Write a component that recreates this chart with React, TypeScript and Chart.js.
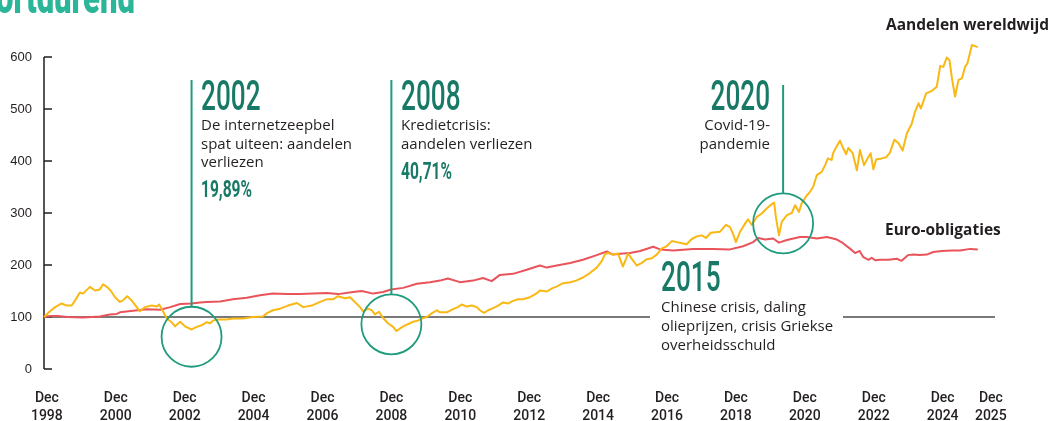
import { useEffect, useRef } from "react";
import { Chart, registerables } from "chart.js";

Chart.register(...registerables);

// ---- data ----
const seriesNames = ["Aandelen wereldwijd", "Euro-obligaties"];

const stockYears = [
  1998.92, 1999.09, 1999.24, 1999.43, 1999.58, 1999.72, 1999.82, 1999.96, 2000.05, 2000.25,
  2000.40, 2000.54, 2000.63, 2000.74, 2000.85, 2000.98, 2001.12, 2001.21, 2001.33, 2001.46,
  2001.61, 2001.70, 2001.85, 2002.04, 2002.19, 2002.26, 2002.37, 2002.48, 2002.62, 2002.72,
  2002.87, 2003.01, 2003.20, 2003.35, 2003.49, 2003.64, 2003.74, 2003.82, 2003.97, 2004.22,
  2004.40, 2004.69, 2004.98, 2005.27, 2005.38, 2005.56, 2005.77, 2006.00, 2006.26, 2006.44,
  2006.69, 2006.93, 2007.12, 2007.31, 2007.45, 2007.65, 2007.80, 2007.94, 2008.09, 2008.18,
  2008.32, 2008.43, 2008.52, 2008.64, 2008.76, 2008.90, 2009.05, 2009.15, 2009.25, 2009.40,
  2009.54, 2009.63, 2009.77, 2009.88, 2010.03, 2010.17, 2010.32, 2010.41, 2010.61, 2010.79,
  2010.93, 2011.04, 2011.19, 2011.33, 2011.48, 2011.57, 2011.69, 2011.81, 2011.95, 2012.10,
  2012.24, 2012.39, 2012.53, 2012.68, 2012.82, 2013.02, 2013.23, 2013.31, 2013.52, 2013.66,
  2013.81, 2013.98, 2014.19, 2014.36, 2014.56, 2014.77, 2014.96, 2015.11, 2015.20, 2015.29,
  2015.43, 2015.58, 2015.72, 2015.87, 2016.01, 2016.12, 2016.27, 2016.41, 2016.56, 2016.70,
  2016.85, 2016.99, 2017.14, 2017.28, 2017.43, 2017.57, 2017.72, 2017.86, 2018.01, 2018.13,
  2018.27, 2018.40, 2018.54, 2018.71, 2018.83, 2018.91, 2019.00, 2019.12, 2019.27, 2019.35,
  2019.46, 2019.60, 2019.75, 2019.90, 2020.04, 2020.11, 2020.16, 2020.25, 2020.33, 2020.48,
  2020.62, 2020.72, 2020.83, 2020.91, 2021.06, 2021.12, 2021.24, 2021.35, 2021.49, 2021.59,
  2021.67, 2021.78, 2021.82, 2021.94, 2022.02, 2022.11, 2022.20, 2022.26, 2022.39, 2022.51,
  2022.60, 2022.72, 2022.82, 2022.91, 2022.99, 2023.07, 2023.23, 2023.36, 2023.47, 2023.60,
  2023.72, 2023.84, 2023.96, 2024.10, 2024.20, 2024.30, 2024.37, 2024.52, 2024.69, 2024.83,
  2024.93, 2025.02, 2025.12, 2025.20, 2025.27, 2025.36, 2025.46, 2025.56, 2025.65, 2025.72,
  2025.85, 2025.94, 2026.02,
];
const stockValues = [
  100, 111, 119, 126, 122, 122, 132, 147, 145, 158,
  151, 153, 163, 158, 151, 138, 129, 132, 140, 132,
  119, 111, 119, 122, 120, 124, 111, 97, 90, 82,
  91, 82, 76, 81, 84, 90, 88, 93, 95, 95,
  97, 97, 100, 101, 107, 113, 116, 122, 127, 119,
  122, 129, 134, 134, 140, 136, 138, 129, 119, 111,
  116, 113, 105, 110, 98, 88, 81, 73, 78, 84,
  88, 91, 93, 97, 100, 107, 113, 109, 109, 115,
  119, 124, 120, 122, 119, 113, 108, 113, 117, 122,
  128, 126, 131, 134, 134, 138, 146, 151, 149, 155,
  159, 165, 167, 170, 176, 185, 195, 208, 221, 223,
  220, 222, 197, 222, 209, 199, 204, 211, 213, 220,
  232, 236, 246, 244, 242, 240, 250, 255, 257, 252,
  262, 263, 264, 277, 273, 261, 244, 264, 280, 288,
  277, 292, 299, 309, 317, 320, 292, 257, 283, 296,
  300, 315, 302, 319, 334, 338, 350, 373, 379, 392,
  405, 402, 415, 430, 439, 425, 413, 425, 415, 382,
  421, 392, 405, 415, 384, 403, 405, 407, 416, 441,
  434, 420, 453, 471, 495, 511, 501, 530, 535, 543,
  583, 581, 599, 594, 559, 524, 556, 559, 581, 588,
  623, 621, 619,
];

const bondYears = [
  1998.92, 1999.09, 1999.32, 1999.59, 2000.05, 2000.54, 2000.83, 2001.03, 2001.12, 2001.50,
  2001.91, 2002.29, 2002.58, 2002.87, 2003.20, 2003.45, 2003.64, 2004.03, 2004.40, 2004.80,
  2005.19, 2005.56, 2005.96, 2006.35, 2006.73, 2007.12, 2007.45, 2007.89, 2008.14, 2008.47,
  2008.76, 2008.99, 2009.34, 2009.74, 2010.12, 2010.41, 2010.64, 2010.99, 2011.37, 2011.66,
  2011.91, 2012.15, 2012.53, 2012.93, 2013.31, 2013.51, 2013.80, 2014.19, 2014.56, 2014.96,
  2015.25, 2015.43, 2015.72, 2015.93, 2016.22, 2016.60, 2016.80, 2017.18, 2017.76, 2018.34,
  2018.83, 2019.21, 2019.50, 2019.64, 2019.85, 2020.08, 2020.25, 2020.48, 2020.86, 2021.06,
  2021.35, 2021.64, 2021.93, 2022.11, 2022.32, 2022.46, 2022.59, 2022.70, 2022.85, 2022.94,
  2023.04, 2023.18, 2023.43, 2023.67, 2023.81, 2024.00, 2024.15, 2024.34, 2024.54, 2024.73,
  2024.98, 2025.27, 2025.51, 2025.80, 2026.02,
];
const bondValues = [
  100, 102, 102, 100, 99, 101, 105, 106, 109, 112,
  115, 114, 119, 125, 126, 128, 129, 130, 134, 137,
  142, 145, 144, 144, 145, 146, 144, 148, 150, 145,
  148, 153, 156, 164, 167, 170, 174, 167, 170, 175,
  169, 181, 183, 191, 199, 195, 199, 204, 210, 219,
  226, 220, 222, 223, 227, 235, 230, 228, 231, 231,
  230, 236, 244, 252, 249, 251, 243, 248, 254, 254,
  251, 254, 249, 242, 231, 223, 227, 215, 210, 214,
  209, 210, 210, 212, 208, 219, 220, 219, 220, 225,
  227, 228, 228, 231, 230,
];

const yTicks = [0, 100, 200, 300, 400, 500, 600];
const xTickYears = [1999, 2001, 2003, 2005, 2007, 2009, 2011, 2013, 2015, 2017, 2019, 2021, 2023, 2025, 2026.4];
const xTickLabels = ["1998", "2000", "2002", "2004", "2006", "2008", "2010", "2012", "2014", "2016", "2018", "2020", "2022", "2024", "2025"];

const eventYears = ["2002", "2008", "2020", "2015"];
const eventTexts = [
  ["De internetzeepbel", "spat uiteen: aandelen", "verliezen"],
  ["Kredietcrisis:", "aandelen verliezen"],
  ["Covid-19-", "pandemie"],
  ["Chinese crisis, daling", "olieprijzen, crisis Griekse", "overheidsschuld"],
];
const eventLosses = ["19,89%", "40,71%"];
// circle centres (year, index value) for the marked crises
const circleYears = [2003.2, 2009.0, 2020.37];
const circleValues = [62, 86, 280];

// ---- styles ----
const YELLOW = "#f9b814";
const RED = "#e9545b";
const TEAL = "#1f9b7e";
const TEAL_DARK = "#187a66";
const INK = "#231f20";

function drawScaled(ctx: CanvasRenderingContext2D, text: string, x: number, y: number, font: string, sx: number, color: string, align: "left" | "right" = "left") {
  ctx.save();
  ctx.font = font;
  const w = ctx.measureText(text).width * sx;
  ctx.translate(align === "left" ? x : x - w, y);
  ctx.scale(sx, 1);
  ctx.fillStyle = color;
  ctx.textAlign = "left";
  ctx.textBaseline = "alphabetic";
  ctx.fillText(text, 0, 0);
  ctx.restore();
}

function scaleFor(ctx: CanvasRenderingContext2D, text: string, font: string, target: number) {
  ctx.save();
  ctx.font = font;
  const w = ctx.measureText(text).width;
  ctx.restore();
  return target / w;
}

const decoPlugin = {
  id: "deco",
  beforeDatasetsDraw(chart: any) {
    const { ctx, chartArea: a, scales } = chart;
    const y = scales.y;
    ctx.save();
    // y axis line and ticks
    ctx.strokeStyle = INK;
    ctx.lineWidth = 1.5;
    ctx.beginPath();
    ctx.moveTo(a.left, y.getPixelForValue(600));
    ctx.lineTo(a.left, y.getPixelForValue(0));
    yTicks.forEach((v) => {
      const py = y.getPixelForValue(v);
      ctx.moveTo(a.left, py);
      ctx.lineTo(a.left + 8, py);
    });
    ctx.stroke();
    // baseline at 100
    const p100 = y.getPixelForValue(100);
    ctx.strokeStyle = "#4d4d4f";
    ctx.lineWidth = 1.5;
    ctx.beginPath();
    ctx.moveTo(a.left, p100);
    ctx.lineTo(650, p100);
    ctx.moveTo(843, p100);
    ctx.lineTo(a.right, p100);
    ctx.stroke();
    ctx.restore();
  },
  afterDatasetsDraw(chart: any) {
    const { ctx, scales } = chart;
    const x = scales.x;
    const y = scales.y;
    ctx.save();

    // title fragment (cropped at the top)
    const titleFont = "900 46px Roboto";
    drawScaled(ctx, "ortdurend", -4, 13, titleFont, scaleFor(ctx, "ortdurend", titleFont, 139), "#2bb69a");

    // circles and connector lines
    const lineTops = [80, 80, 85];
    ctx.strokeStyle = TEAL;
    circleYears.forEach((cy, i) => {
      const px = x.getPixelForValue(cy);
      const py = y.getPixelForValue(circleValues[i]);
      const r = 30;
      ctx.lineWidth = 1.8;
      ctx.beginPath();
      ctx.arc(px, py, r, 0, Math.PI * 2);
      ctx.stroke();
      ctx.lineWidth = 2;
      ctx.beginPath();
      ctx.moveTo(px, lineTops[i]);
      ctx.lineTo(px, py - r);
      ctx.stroke();
    });

    // fonts and condensing factors
    const bigFont = "500 42px Roboto";
    const bigS = scaleFor(ctx, "2002", bigFont, 59.5);
    const bodyFont = "500 14px 'Open Sans'";
    const bodyS = scaleFor(ctx, "spat uiteen: aandelen", bodyFont, 151);
    const pctFont = "bold 24px Roboto";
    const pctS = scaleFor(ctx, "19,89%", pctFont, 51);

    // 2002
    drawScaled(ctx, eventYears[0], 201, 110, bigFont, bigS, TEAL_DARK);
    eventTexts[0].forEach((t, i) => drawScaled(ctx, t, 201, 130 + i * 18.5, bodyFont, bodyS, INK));
    drawScaled(ctx, eventLosses[0], 201, 197, pctFont, pctS, TEAL_DARK);

    // 2008
    drawScaled(ctx, eventYears[1], 401, 110, bigFont, bigS, TEAL_DARK);
    eventTexts[1].forEach((t, i) => drawScaled(ctx, t, 401, 130 + i * 18.5, bodyFont, bodyS, INK));
    drawScaled(ctx, eventLosses[1], 401, 179, pctFont, pctS, TEAL_DARK);

    // 2020 (right aligned)
    drawScaled(ctx, eventYears[2], 770, 110, bigFont, bigS, TEAL_DARK, "right");
    eventTexts[2].forEach((t, i) => drawScaled(ctx, t, 770, 130 + i * 18.5, bodyFont, bodyS, INK, "right"));

    // 2015
    drawScaled(ctx, eventYears[3], 661, 291, bigFont, bigS, TEAL_DARK);
    eventTexts[3].forEach((t, i) => drawScaled(ctx, t, 661, 312 + i * 19, bodyFont, bodyS, INK));

    // series labels
    const lblFont = "bold 16px 'Open Sans'";
    const lblS = scaleFor(ctx, seriesNames[0], lblFont, 163);
    drawScaled(ctx, seriesNames[0], 1049, 30, lblFont, lblS, INK, "right");
    drawScaled(ctx, seriesNames[1], 885, 235, lblFont, lblS, INK);

    ctx.restore();
  },
};

export default function App() {
  const ref = useRef<HTMLCanvasElement | null>(null);

  useEffect(() => {
    if (!ref.current) return;
    const stocks = stockYears.map((v, i) => ({ x: v, y: stockValues[i] }));
    const bonds = bondYears.map((v, i) => ({ x: v, y: bondValues[i] }));
    const chart = new Chart(ref.current, {
      type: "line",
      data: {
        datasets: [
          { label: seriesNames[0], data: stocks, borderColor: YELLOW, borderWidth: 2, pointRadius: 0, tension: 0, borderJoinStyle: "round", clip: false },
          { label: seriesNames[1], data: bonds, borderColor: RED, borderWidth: 2, pointRadius: 0, tension: 0, borderJoinStyle: "round", clip: false },
        ],
      },
      options: {
        animation: false,
        responsive: false,
        maintainAspectRatio: false,
        layout: { padding: { left: 0, top: 57, right: 57, bottom: 0 } },
        plugins: { legend: { display: false }, tooltip: { enabled: false } },
        scales: {
          x: {
            type: "linear",
            min: 1998.917,
            max: 2026.52,
            grid: { display: false, drawTicks: false },
            border: { display: false },
            afterBuildTicks: (s: any) => {
              s.ticks = xTickYears.map((v) => ({ value: v }));
            },
            afterFit: (s: any) => {
              s.height = 52;
            },
            ticks: {
              autoSkip: false,
              maxRotation: 0,
              padding: 21,
              color: INK,
              font: { family: "Roboto", size: 14, weight: "500", lineHeight: 1.25 },
              callback: (_v: any, i: number) => ["Dec", xTickLabels[i]],
            },
          },
          y: {
            min: 0,
            max: 600,
            afterBuildTicks: (s: any) => {
              s.ticks = yTicks.map((v) => ({ value: v }));
            },
            afterFit: (s: any) => {
              s.width = 44;
            },
            grid: { display: false, drawTicks: false },
            border: { display: false },
            ticks: { padding: 12, color: INK, font: { family: "'Liberation Sans', Arial, sans-serif", size: 13 } },
          },
        },
      },
      plugins: [decoPlugin],
    } as any);
    return () => chart.destroy();
  }, []);

  return (
    <div style={{ position: "fixed", left: 0, top: 0, width: 1052, height: 421, background: "#fff" }}>
      <canvas ref={ref} width={1052} height={421} style={{ width: 1052, height: 421, display: "block" }} />
    </div>
  );
}
